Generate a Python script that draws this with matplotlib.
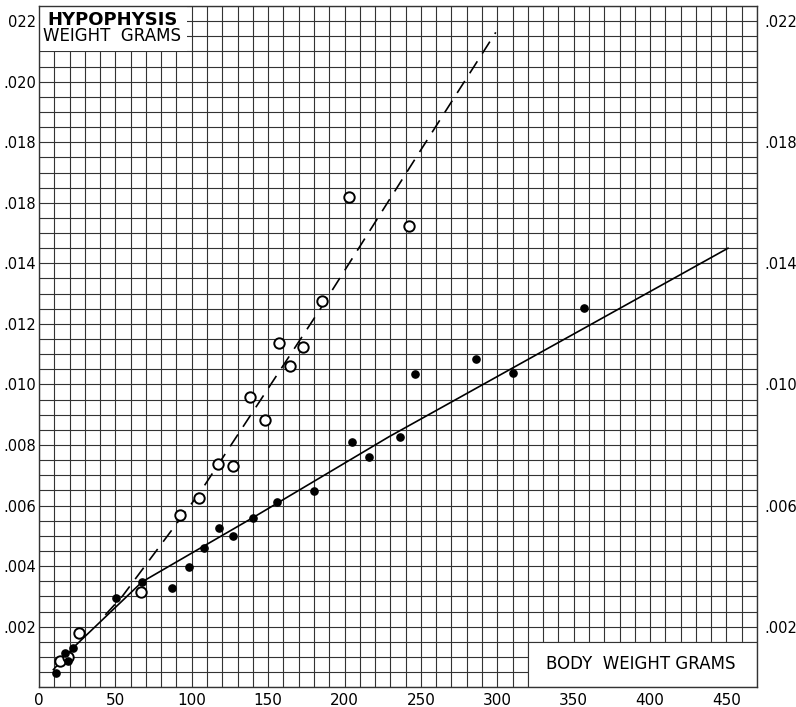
import matplotlib

matplotlib.use("Agg")
import matplotlib.pyplot as plt
import numpy as np
from matplotlib.patches import Rectangle

# open circles (dashed curve group)
open_x = [14, 19, 26, 67, 92, 105, 117, 127, 138, 148, 157, 164, 173, 185, 203, 242]
open_y = [0.00088, 0.00101, 0.0018, 0.00316, 0.0057, 0.00626, 0.00737, 0.00731,
          0.0096, 0.00883, 0.01137, 0.0106, 0.01124, 0.01276, 0.0162, 0.01523]

# filled circles (solid curve group)
fill_x = [11, 17, 19, 22.5, 50.5, 67.5, 87, 98, 108, 118, 127, 140, 156, 180,
          205, 216, 236, 246, 286, 310, 357]
fill_y = [0.00048, 0.00114, 0.00085, 0.00131, 0.00295, 0.00348, 0.00329, 0.00398,
          0.00461, 0.00527, 0.0050, 0.0056, 0.00613, 0.00649, 0.0081, 0.00761,
          0.00827, 0.01035, 0.01084, 0.01038, 0.01253]

# fitted curves
solid_x = [9.4, 22.5, 67.5, 140, 229, 451]
solid_y = [0.00058, 0.00131, 0.00348, 0.0056, 0.00827, 0.0145]
dash_x = [43.4, 54.5, 105.3, 185, 249, 299]
dash_y = [0.00239, 0.0030, 0.00643, 0.01256, 0.01767, 0.02163]

x_ticks = [0, 50, 100, 150, 200, 250, 300, 350, 400, 450]
x_labels = ["0", "50", "100", "150", "200", "250", "300", "350", "400", "450"]
yl_ticks = [0.022, 0.020, 0.018, 0.016, 0.014, 0.012, 0.010, 0.008, 0.006, 0.004, 0.002]
yl_labels = ["022", ".020", ".018", ".018", ".014", ".012", ".010", ".008", ".006", ".004", ".002"]
yr_ticks = [0.022, 0.018, 0.014, 0.010, 0.006, 0.002]
yr_labels = [".022", ".018", ".014", ".010", ".006", ".002"]

plt.rcParams["font.family"] = "DejaVu Sans"

fig = plt.figure(figsize=(7.96, 7.07), dpi=100)
ax = fig.add_axes([0.049, 0.028, 0.902, 0.9635])
ax.set_xlim(0, 470)
ax.set_ylim(0, 0.0225)

# graph paper
grid_col = "#333333"
ax.set_xticks(np.arange(0, 471, 10), minor=True)
ax.set_yticks(np.arange(0, 0.02251, 0.0005), minor=True)
ax.set_xticks(x_ticks)
ax.set_xticklabels(x_labels, fontsize=11)
ax.set_yticks(yl_ticks)
ax.set_yticklabels(yl_labels, fontsize=10.5)
ax.grid(which="both", color=grid_col, lw=0.8)
ax.set_axisbelow(True)
ax.tick_params(which="both", length=0)
ax.tick_params(axis="x", pad=4)
ax.tick_params(axis="y", pad=2)
for s in ax.spines.values():
    s.set_color(grid_col)
    s.set_linewidth(1.0)

# label boxes
ax.add_patch(Rectangle((0, 0.021), 97, 0.0015, facecolor="white",
                       edgecolor="none", zorder=2))
ax.add_patch(Rectangle((320, 0), 150, 0.0015, facecolor="white",
                       edgecolor=grid_col, lw=0.8, zorder=2))
ax.text(48, 0.02205, "HYPOPHYSIS", ha="center", va="center",
        fontsize=13, fontweight="bold", zorder=3)
ax.text(48, 0.0215, "WEIGHT  GRAMS", ha="center", va="center",
        fontsize=12, zorder=3)
ax.text(394, 0.00077, "BODY  WEIGHT GRAMS", ha="center", va="center",
        fontsize=12, zorder=3)

# curves and points
ax.plot(solid_x, solid_y, color="black", lw=1.2, zorder=4)
dl, = ax.plot(dash_x, dash_y, color="black", lw=1.2, zorder=4)
dl.set_dashes((8.5, 5.5))
ax.plot(open_x, open_y, "o", ms=7.5, mfc="white", mec="black", mew=1.4, zorder=5)
ax.plot(fill_x, fill_y, "o", ms=5.2, color="black", zorder=5)

# right-hand scale
ax2 = ax.twinx()
ax2.set_ylim(ax.get_ylim())
ax2.set_yticks(yr_ticks)
ax2.set_yticklabels(yr_labels, fontsize=10.5)
ax2.tick_params(length=0, pad=5)
for s in ax2.spines.values():
    s.set_visible(False)

fig.savefig("out.png", dpi=100, facecolor="white")
